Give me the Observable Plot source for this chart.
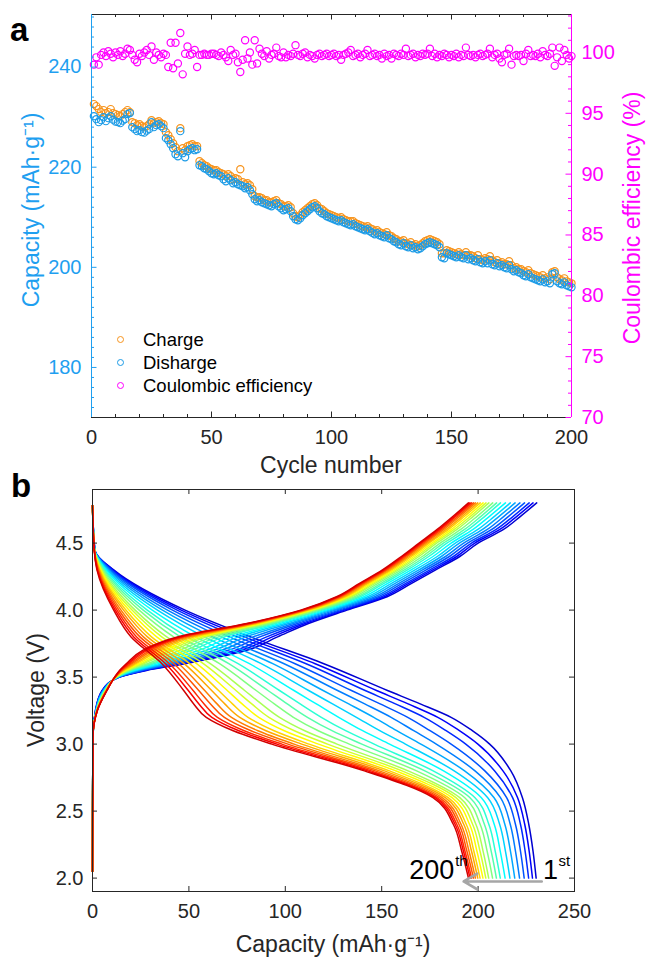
<!DOCTYPE html>
<html><head><meta charset="utf-8">
<script src="https://cdn.jsdelivr.net/npm/d3@7"></script>
<script src="https://cdn.jsdelivr.net/npm/@observablehq/plot@0.6"></script>
<style>
body{margin:0;background:#fff;font-family:"Liberation Sans",Arial,sans-serif}
#wrap{position:relative;width:648px;height:961px;overflow:hidden}
#pa,#pb{position:absolute;left:0}
#pa{top:0}#pb{top:475px}
.t{position:absolute;white-space:nowrap;font-size:23px;line-height:1;transform:translate(-50%,-50%)}
.r{transform:translate(-50%,-50%) rotate(-90deg)}
.tag{position:absolute;font-weight:bold;font-size:33px;line-height:1;color:#000}
.lg{position:absolute;font-size:18.5px;line-height:1;color:#000;white-space:nowrap}
.lg i{position:absolute;width:5px;height:5px;border:1.4px solid;border-radius:50%}
</style></head><body>
<div id="wrap"><div id="pa"></div><div id="pb"></div></div>
<script>
// ---------- Panel a data ----------
const cycleNumber = Array.from({length: 200}, (_, i) => i + 1);
const chargeCapacity = [
232.6,232.2,231.6,231.0,231.4,230.8,231.0,231.6,230.8,230.6,
230.4,230.2,230.6,231.0,231.4,231.0,229.0,228.8,228.4,228.6,
228.2,228.0,228.2,228.6,229.4,228.8,229.0,229.2,228.8,228.6,
227.0,226.4,225.6,224.8,224.0,223.2,227.8,223.8,223.4,224.2,
224.4,224.6,224.2,224.2,221.2,220.8,220.4,220.2,219.8,219.6,
219.4,219.4,219.0,218.8,218.6,218.2,218.6,218.2,217.6,217.8,
217.6,219.6,217.0,216.6,216.8,216.4,215.6,214.2,214.0,214.0,
213.8,213.4,213.4,213.0,213.0,213.2,213.4,212.8,212.6,212.2,
212.2,212.4,212.0,210.8,210.2,210.0,210.4,211.0,211.4,211.8,
212.2,212.6,212.8,212.4,211.8,211.6,211.2,210.8,210.6,210.4,
210.2,210.0,209.8,210.0,209.6,209.4,209.2,209.2,209.2,208.8,
208.6,208.4,208.2,208.0,208.2,207.8,207.6,207.2,207.4,207.0,
206.8,206.6,207.0,206.4,206.2,205.8,205.6,205.2,205.2,205.4,
204.8,204.6,205.0,204.4,204.6,204.2,204.4,204.8,205.2,205.4,
205.6,205.4,205.2,205.0,204.6,202.8,202.8,203.4,203.2,203.0,
202.8,202.6,203.0,202.6,202.4,203.0,202.4,202.4,202.2,201.8,
202.4,201.6,201.4,201.8,201.6,202.2,201.4,201.0,201.4,200.8,
201.0,200.6,200.6,201.2,200.4,199.8,200.0,199.6,199.6,199.2,
199.0,199.4,198.8,198.6,198.4,198.2,198.0,198.4,197.8,198.0,
197.6,199.0,199.2,198.0,197.6,197.4,197.8,197.2,197.0,196.8];
const dischargeCapacity = [
230.2,229.6,229.0,229.4,230.0,229.2,229.8,230.2,229.5,229.1,
229.0,228.8,229.3,229.6,230.6,230.8,228.0,227.6,227.2,227.4,
227.0,226.9,227.3,227.6,229.0,228.0,228.4,228.6,228.2,227.8,
225.8,225.4,224.6,223.8,222.6,222.2,227.2,222.8,222.0,223.2,
223.6,223.8,223.4,223.6,220.4,220.2,219.8,219.6,219.2,218.8,
218.6,218.8,218.4,218.2,217.6,217.2,217.8,217.4,216.8,217.0,
216.6,216.4,216.2,215.8,216.0,215.4,214.6,213.6,213.2,213.4,
213.0,212.8,212.6,212.4,212.2,212.6,212.8,212.2,211.8,211.4,
211.6,211.8,211.2,210.2,209.6,209.4,209.8,210.4,210.8,211.2,
211.6,212.0,212.2,211.8,211.2,210.8,210.6,210.2,210.0,209.8,
209.6,209.4,209.2,209.4,209.0,208.8,208.6,208.4,208.6,208.2,
208.0,207.8,207.6,207.4,207.6,207.2,206.9,206.6,206.8,206.4,
206.2,206.0,206.4,205.8,205.6,205.2,205.0,204.6,204.4,204.8,
204.2,204.0,204.4,203.8,204.0,203.6,203.8,204.2,204.6,204.8,
205.0,204.8,204.6,204.4,204.0,202.0,201.8,202.8,202.6,202.4,
202.2,202.0,202.4,202.0,201.8,202.4,201.6,201.8,201.4,201.2,
201.6,201.0,200.8,201.2,200.8,201.4,200.6,200.4,200.8,200.2,
200.4,200.0,199.8,200.4,199.6,199.2,199.4,199.0,198.8,198.4,
198.2,198.6,198.0,197.8,197.6,197.4,197.2,197.6,197.0,197.2,
196.8,198.6,198.8,197.2,196.8,196.6,197.0,196.4,196.2,196.0];
const coulombicEfficiency = [
99.0,99.6,99.0,99.8,100.0,99.7,100.1,99.9,99.6,100.0,
99.8,100.1,99.7,99.9,100.3,100.2,99.8,99.4,99.2,99.9,
99.7,100.0,100.2,99.8,100.5,99.4,100.0,99.8,99.6,99.9,
99.8,98.8,100.8,98.7,100.8,99.1,101.6,98.2,99.9,100.5,
99.8,99.9,100.2,98.8,99.8,99.8,99.9,99.8,99.8,99.9,
99.9,99.8,99.7,100.0,99.8,99.6,99.3,100.2,99.8,99.9,
99.2,98.4,99.4,101.0,99.5,100.0,99.0,101.0,99.1,100.3,
99.9,99.7,100.1,99.5,99.8,99.9,100.4,99.7,99.6,100.0,
99.6,99.8,99.7,99.9,100.6,99.8,99.7,99.9,100.0,99.6,
99.8,99.7,99.5,99.8,99.9,99.7,99.8,99.9,99.7,99.8,
99.9,99.7,99.8,99.4,99.8,99.9,100.0,100.2,99.7,99.8,
99.9,99.6,99.8,99.9,100.2,99.7,99.8,99.9,99.7,99.8,
99.5,99.9,99.7,99.8,99.5,99.9,99.8,99.7,99.9,99.8,
100.3,99.7,99.8,99.9,99.6,99.8,99.7,99.9,99.8,99.9,
100.3,99.7,99.9,99.6,99.8,99.7,99.9,99.8,99.6,99.8,
99.7,99.9,99.6,99.8,99.7,100.4,99.8,99.7,99.8,99.6,
99.8,99.9,99.7,99.8,99.9,100.3,99.6,99.8,99.9,99.5,
99.2,99.8,99.9,100.3,99.0,99.7,99.8,99.7,99.8,99.3,
99.9,100.2,99.7,99.8,99.7,99.9,99.6,100.1,99.8,99.7,
99.9,100.4,98.9,99.6,100.4,99.3,100.2,99.8,99.5,99.7];
const cycleTicks = [0, 50, 100, 150, 200];
const capacityTicks = [180, 200, 220, 240];
const efficiencyTicks = [70, 75, 80, 85, 90, 95, 100];
const legendLabels = ["Charge", "Disharge", "Coulombic efficiency"];

// ---------- Panel b data ----------
const curveCycles = [1,10,20,30,40,50,60,70,80,90,100,110,120,130,140,150,160,170,180,190,200];
const curveColors = ["#0000d1","#0000fc","#0028ff","#0053ff","#007dff","#00a8ff","#00d3ff","#00feff","#2affd5","#55ffaa","#80ff80","#aaff55","#d5ff2a","#fffe00","#ffd300","#ffa800","#ff7d00","#ff5300","#ff2800","#fc0000","#d10000"];
const dischargeVolt = [4.78,4.45,4.3,4.0,3.8,3.6,3.4,3.3,3.2,3.1,3.0,2.8,2.6,2.4,2.2,2.0];
const dischargeCap = [
[0,1.2,11.0,48.0,82.0,120.0,153.0,170.0,186.0,197.0,206.0,217.0,223.0,226.3,228.5,230.1],
[0,1.2,10.5,46.0,78.7,115.5,147.3,163.7,179.1,190.3,199.9,212.9,220.5,224.2,226.5,228.2],
[0,1.2,10.0,43.9,75.2,110.8,141.4,157.1,172.0,183.4,193.6,208.6,217.9,222.0,224.4,226.2],
[0,1.2,9.5,41.5,71.0,105.1,134.3,149.2,163.5,175.1,186.0,203.5,214.8,219.4,222.0,223.9],
[0,1.1,8.9,38.9,66.8,99.4,127.1,141.2,154.9,166.6,178.3,198.4,211.6,216.7,219.4,221.5],
[0,1.1,8.3,36.3,62.4,93.5,119.6,132.9,145.9,157.8,170.3,193.0,208.3,213.9,216.8,219.0],
[0,1.1,7.6,33.7,58.0,87.5,112.1,124.5,136.9,149.0,162.3,187.6,205.0,211.2,214.2,216.5],
[0,1.1,7.0,31.0,53.5,81.4,104.5,116.1,127.7,140.1,154.1,182.1,201.7,208.4,211.5,214.0],
[0,1.1,6.4,28.4,49.1,75.5,97.0,107.7,118.7,131.3,146.1,176.7,198.4,205.6,208.9,211.5],
[0,1.0,5.9,26.3,45.6,70.7,91.0,101.0,111.5,124.2,139.7,172.4,195.8,203.3,206.8,209.5],
[0,1.0,5.4,24.2,42.1,65.9,84.9,94.3,104.2,117.1,133.2,168.1,193.1,201.1,204.7,207.5],
[0,1.0,4.9,22.1,38.5,61.1,78.9,87.6,97.0,110.1,126.8,163.7,190.5,198.9,202.6,205.5],
[0,1.0,4.5,20.5,35.9,57.5,74.4,82.6,91.5,104.7,121.9,160.5,188.5,197.2,201.0,204.0],
[0,1.0,4.2,18.9,33.3,54.0,69.9,77.6,86.2,99.5,117.2,157.3,186.5,195.6,199.4,202.5],
[0,1.0,3.8,17.3,30.6,50.4,65.4,72.6,80.7,94.2,112.3,154.0,184.5,193.9,197.8,201.0],
[0,1.0,3.5,16.1,28.5,47.5,61.8,68.6,76.4,90.0,108.5,151.4,183.0,192.6,196.6,199.8],
[0,0.9,3.2,14.8,26.4,44.7,58.2,64.6,72.1,85.8,104.6,148.8,181.4,191.2,195.3,198.6],
[0,0.9,2.9,13.7,24.6,42.2,55.1,61.2,68.4,82.2,101.4,146.6,180.0,190.1,194.2,197.6],
[0,0.9,2.7,12.7,22.9,39.9,52.2,57.9,64.8,78.7,98.2,144.5,178.7,189.0,193.2,196.6],
[0,0.9,2.5,11.8,21.4,37.9,49.7,55.2,61.9,75.9,95.6,142.7,177.7,188.1,192.4,195.8],
[0,0.9,2.3,11.0,20.0,36.0,47.3,52.5,59.0,73.0,93.0,141.0,176.6,187.2,191.5,195.0]];
const chargeVolt = [2.05,3.05,3.25,3.4,3.5,3.55,3.6,3.7,3.8,3.9,4.0,4.1,4.2,4.3,4.4,4.5,4.6,4.7,4.8];
const chargeCap = [
[0,0.2,1.5,5.0,14.0,28.0,48.0,80.0,96.0,112.0,132.0,152.8,165.5,178.0,190.5,200.0,213.0,222.0,230.4],
[0,0.2,1.6,5.1,13.9,27.2,46.4,77.1,93.2,110.3,130.7,151.4,164.0,176.5,188.9,198.3,211.1,220.1,228.5],
[0,0.2,1.6,5.3,13.7,26.5,44.6,74.1,90.3,108.5,129.4,149.9,162.5,175.0,187.2,196.6,209.2,218.2,226.5],
[0,0.2,1.7,5.4,13.6,25.5,42.6,70.4,86.8,106.3,127.8,148.2,160.7,173.1,185.1,194.6,206.9,215.8,224.1],
[0,0.2,1.7,5.6,13.4,24.6,40.5,66.8,83.3,104.2,126.1,146.4,158.9,171.2,183.1,192.5,204.6,213.4,221.7],
[0,0.2,1.8,5.8,13.2,23.6,38.4,62.9,79.6,101.9,124.4,144.5,157.0,169.3,180.9,190.3,202.1,210.9,219.2],
[0,0.2,1.9,6.0,13.0,22.6,36.2,59.1,75.9,99.6,122.7,142.7,155.1,167.3,178.8,188.2,199.7,208.5,216.7],
[0,0.2,2.0,6.1,12.9,21.6,34.0,55.2,72.1,97.3,121.0,140.8,153.1,165.3,176.6,186.0,197.2,205.9,214.2],
[0,0.2,2.0,6.3,12.7,20.6,31.8,51.4,68.4,95.0,119.3,138.9,151.2,163.4,174.4,183.8,194.8,203.5,211.6],
[0,0.2,2.1,6.5,12.5,19.8,30.1,48.3,65.5,93.2,117.9,137.4,149.7,161.8,172.7,182.0,192.8,201.5,209.6],
[0,0.2,2.1,6.6,12.4,19.0,28.4,45.2,62.5,91.4,116.5,135.9,148.1,160.2,171.0,180.3,190.8,199.5,207.6],
[0,0.2,2.2,6.8,12.2,18.2,26.6,42.1,59.5,89.6,115.2,134.4,146.6,158.7,169.3,178.5,188.9,197.5,205.6],
[0,0.2,2.2,6.9,12.1,17.6,25.3,39.8,57.3,88.2,114.1,133.3,145.4,157.5,168.0,177.2,187.4,196.0,204.1],
[0,0.2,2.3,7.0,12.0,17.0,24.0,37.6,55.1,86.8,113.1,132.2,144.3,156.3,166.7,175.9,186.0,194.5,202.6],
[0,0.2,2.3,7.1,11.9,16.4,22.7,35.2,52.9,85.5,112.1,131.1,143.1,155.1,165.4,174.6,184.5,193.0,201.1],
[0,0.2,2.4,7.2,11.8,15.9,21.7,33.4,51.1,84.4,111.3,130.2,142.2,154.2,164.3,173.6,183.3,191.8,199.8],
[0,0.2,2.4,7.2,11.8,15.4,20.6,31.6,49.4,83.3,110.5,129.3,141.3,153.2,163.3,172.6,182.1,190.6,198.6],
[0,0.2,2.4,7.3,11.7,15.0,19.8,30.0,47.8,82.4,109.8,128.5,140.5,152.4,162.4,171.7,181.1,189.6,197.6],
[0,0.2,2.5,7.4,11.6,14.6,18.9,28.5,46.4,81.5,109.1,127.8,139.7,151.7,161.6,170.8,180.2,188.6,196.6],
[0,0.2,2.5,7.4,11.6,14.3,18.2,27.2,45.2,80.7,108.6,127.2,139.1,151.0,160.9,170.1,179.4,187.8,195.8],
[0,0.2,2.5,7.5,11.5,14.0,17.5,26.0,44.0,80.0,108.0,126.6,138.5,150.4,160.2,169.4,178.6,187.0,195.0]];
const voltTicks = [2.0, 2.5, 3.0, 3.5, 4.0, 4.5];
const capTicksB = [0, 50, 100, 150, 200, 250];
const arrowSpec = [{from: 233, to: 192.5, v: 1.975}];
const annoMain = [{cap: 187.6, v: 2.06, text: "200"}];
const annoFirst = [{cap: 233.6, v: 2.06, text: "1"}];

// ---------- styling ----------
const FONT = '"Liberation Sans", Arial, sans-serif';
const C_OR = "#f7941d", C_BL = "#1c9be6", C_AXB = "#1f9ff0", C_MG = "#ff00ff", C_AX = "#262626";
const capLo = 170, capHi = 250.5, ceLo = 70, ceHi = 103.12;
const ceToCap = v => capLo + (v - ceLo) * (capHi - capLo) / (ceHi - ceLo);
const capToCe = c => ceLo + (c - capLo) * (ceHi - ceLo) / (capHi - capLo);

// ---------- Panel a ----------
const A = {w: 648, h: 475, t: 14, r: 77, b: 58, l: 91};
const FWa = A.w - A.l - A.r, FHa = A.h - A.t - A.b;
const rowsA = cycleNumber.map((c, i) => ({cycle: c, charge: chargeCapacity[i], discharge: dischargeCapacity[i], ce: coulombicEfficiency[i]}));
const cycleMinor = d3.range(10, 200, 10).filter(d => d % 50);
const capMinor = d3.range(172, 251, 2).filter(d => d % 20);
const ceMinor = d3.range(71, 104, 1).filter(d => d % 5);

const plotA = Plot.plot({
  width: A.w, height: A.h, marginTop: A.t, marginRight: A.r, marginBottom: A.b, marginLeft: A.l,
  x: {domain: [0, 200]}, y: {domain: [capLo, capHi]},
  style: {fontFamily: FONT, fontSize: "20px", background: "transparent", overflow: "visible"},
  marks: [
    Plot.dot(rowsA, {x: "cycle", y: d => ceToCap(d.ce), r: 3.6, stroke: C_MG, strokeWidth: 1.2}),
    Plot.dot(rowsA, {x: "cycle", y: "charge", r: 3.6, stroke: C_OR, strokeWidth: 1.2}),
    Plot.dot(rowsA, {x: "cycle", y: "discharge", r: 3.6, stroke: C_BL, strokeWidth: 1.2}),
    Plot.ruleY([capLo], {stroke: C_AX}),
    Plot.ruleY([capHi], {stroke: C_AX}),
    Plot.ruleX(cycleTicks, {x: d => d, insetTop: FHa - 5.5, stroke: C_AX}),
    Plot.ruleX(cycleTicks, {x: d => d, insetBottom: FHa - 5.5, stroke: C_AX}),
    Plot.ruleX(cycleMinor, {x: d => d, insetTop: FHa - 3, stroke: C_AX}),
    Plot.ruleX(cycleMinor, {x: d => d, insetBottom: FHa - 3, stroke: C_AX}),
    Plot.ruleX([0], {stroke: C_AXB}),
    Plot.ruleX([200], {stroke: C_MG}),
    Plot.ruleY(capacityTicks, {y: d => d, insetRight: FWa - 5.5, stroke: C_AXB}),
    Plot.ruleY(capMinor, {y: d => d, insetRight: FWa - 3, stroke: C_AXB}),
    Plot.ruleY(efficiencyTicks, {y: d => ceToCap(d), insetLeft: FWa - 5.5, stroke: C_MG}),
    Plot.ruleY(ceMinor, {y: d => ceToCap(d), insetLeft: FWa - 3, stroke: C_MG}),
    Plot.axisX({ticks: cycleTicks, tickSize: 0, tickPadding: 12, label: null, fill: C_AX}),
    Plot.axisY({anchor: "left", ticks: capacityTicks, tickSize: 0, tickPadding: 10, label: null, fill: C_AXB}),
    Plot.axisY({anchor: "right", ticks: efficiencyTicks.map(ceToCap), tickFormat: d => Math.round(capToCe(d)), tickSize: 0, tickPadding: 10, label: null, fill: C_MG})
  ]
});
document.getElementById("pa").appendChild(plotA);

// ---------- Panel b ----------
const B = {w: 648, h: 486, t: 14, r: 74, b: 70, l: 92};
const FWb = B.w - B.l - B.r, FHb = B.h - B.t - B.b;
const lineData = [];
curveCycles.forEach((c, i) => {
  dischargeVolt.forEach((v, j) => lineData.push({curve: "d" + c, cap: dischargeCap[i][j], v, color: curveColors[i]}));
  for (let j = chargeVolt.length - 1; j >= 0; j--) lineData.push({curve: "c" + c, cap: chargeCap[i][j], v: chargeVolt[j], color: curveColors[i]});
});

const plotB = Plot.plot({
  width: B.w, height: B.h, marginTop: B.t, marginRight: B.r, marginBottom: B.b, marginLeft: B.l,
  x: {domain: [0, 250]}, y: {domain: [1.9, 4.9]}, color: {type: "identity"},
  style: {fontFamily: FONT, fontSize: "20px", background: "transparent", overflow: "visible"},
  marks: [
    Plot.line(lineData, {x: "cap", y: "v", z: "curve", stroke: "color", strokeWidth: 1.5, curve: "monotone-y"}),
    Plot.frame({stroke: C_AX, strokeWidth: 1}),
    Plot.ruleX(capTicksB, {x: d => d, insetTop: FHb - 5, stroke: C_AX}),
    Plot.ruleX(capTicksB, {x: d => d, insetBottom: FHb - 5, stroke: C_AX}),
    Plot.ruleY(voltTicks, {y: d => d, insetRight: FWb - 5, stroke: C_AX}),
    Plot.ruleY(voltTicks, {y: d => d, insetLeft: FWb - 5, stroke: C_AX}),
    Plot.axisX({ticks: capTicksB, tickSize: 0, tickPadding: 12, label: null, fill: C_AX}),
    Plot.axisY({ticks: voltTicks, tickFormat: d3.format(".1f"), tickSize: 0, tickPadding: 9, label: null, fill: C_AX}),
    Plot.arrow(arrowSpec, {x1: "from", y1: "v", x2: "to", y2: "v", stroke: "#a6a6a6", strokeWidth: 2.6, headLength: 9}),
    Plot.text(annoMain, {x: "cap", y: "v", text: "text", textAnchor: "end", fontSize: 27, fill: "#000"}),
    Plot.text(annoMain, {x: "cap", y: "v", text: () => "th", textAnchor: "start", fontSize: 15, dx: 1, dy: -9, fill: "#000"}),
    Plot.text(annoFirst, {x: "cap", y: "v", text: "text", textAnchor: "start", fontSize: 27, fill: "#000"}),
    Plot.text(annoFirst, {x: "cap", y: "v", text: () => "st", textAnchor: "start", fontSize: 15, dx: 15.5, dy: -9, fill: "#000"})
  ]
});
document.getElementById("pb").appendChild(plotB);

// ---------- HTML texts: panel tags, axis titles, legend ----------
const wrap = document.getElementById("wrap");
function addDiv(cls, text, css) {
  const d = document.createElement("div");
  d.className = cls; d.textContent = text; Object.assign(d.style, css); wrap.appendChild(d); return d;
}
addDiv("tag", "a", {left: "10px", top: "13px"});
addDiv("tag", "b", {left: "11px", top: "469px"});
addDiv("t", "Cycle number", {left: "331px", top: "465px", color: C_AX});
addDiv("t r", "Capacity (mAh·g⁻¹)", {left: "31px", top: "210px", color: C_AXB});
addDiv("t r", "Coulombic efficiency (%)", {left: "632px", top: "218px", color: C_MG});
addDiv("t r", "Voltage (V)", {left: "36px", top: "690px", color: C_AX});
addDiv("t", "Capacity (mAh·g⁻¹)", {left: "333px", top: "944px", color: C_AX});
const legendColors = [C_OR, C_BL, C_MG];
legendLabels.forEach((lab, i) => {
  const d = addDiv("lg", lab, {left: "143px", top: (331 + 23 * i) + "px"});
  const m = document.createElement("i");
  Object.assign(m.style, {left: "-26px", top: "5px", borderColor: legendColors[i]});
  d.appendChild(m);
});
</script>
</body></html>
